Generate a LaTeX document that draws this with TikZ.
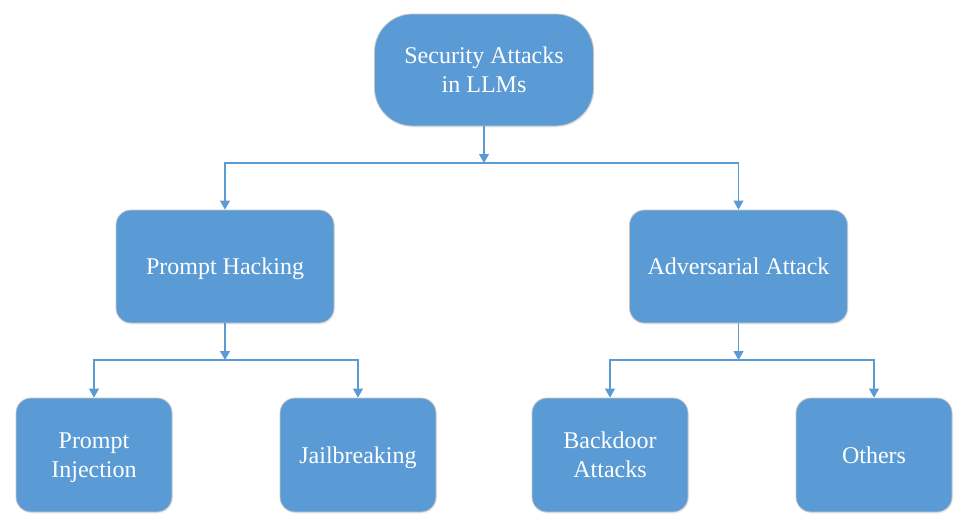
\documentclass[tikz,border=0pt]{standalone}
\usepackage{fontspec}
\setmainfont{Liberation Serif}
\usetikzlibrary{arrows.meta,shadows}
\definecolor{boxblue}{RGB}{91,155,213}

\begin{document}
\begin{tikzpicture}[x=1pt,y=-1pt,
   box/.style={draw=gray!45,line width=0.8pt,fill=boxblue,text=white,rounded corners=15pt,
     align=center,inner sep=0pt,text depth=0pt,font=\fontsize{24}{29}\selectfont,
     drop shadow={opacity=0.12,shadow xshift=1pt,shadow yshift=-1.5pt}},
   top/.style={box,minimum width=219pt,minimum height=112pt,rounded corners=38pt},
   mid/.style={box,minimum width=218pt,minimum height=113pt},
   leaf/.style={box,minimum width=156pt,minimum height=114pt},
   link/.style={draw=boxblue,line width=1.1pt,-{Triangle[length=9pt,width=10pt]}}
]
  \useasboundingbox (0,0) rectangle (968,525);
  \node[top]  (root) at (484,70)    {Security Attacks\\in LLMs};
  \node[mid]  (ph)   at (225,266.5) {Prompt Hacking};
  \node[mid]  (aa)   at (738.5,266.5) {Adversarial Attack};
  \node[leaf] (pi)   at (94,455)  {Prompt\\Injection};
  \node[leaf] (jb)   at (358,455) {Jailbreaking};
  \node[leaf] (bd)   at (610,455) {Backdoor\\Attacks};
  \node[leaf] (ot)   at (874,455) {Others};
  % branch points
  \coordinate (j0) at (484,163);
  \coordinate (j1) at (225,360);
  \coordinate (j2) at (738.5,360);
  \draw[link] (root) -- (j0);
  \draw[link] (j0) -| (ph);
  \draw[link] (j0) -| (aa);
  \draw[link] (ph) -- (j1);
  \draw[link] (j1) -| (pi);
  \draw[link] (j1) -| (jb);
  \draw[link] (aa) -- (j2);
  \draw[link] (j2) -| (bd);
  \draw[link] (j2) -| (ot);
\end{tikzpicture}
\end{document}
